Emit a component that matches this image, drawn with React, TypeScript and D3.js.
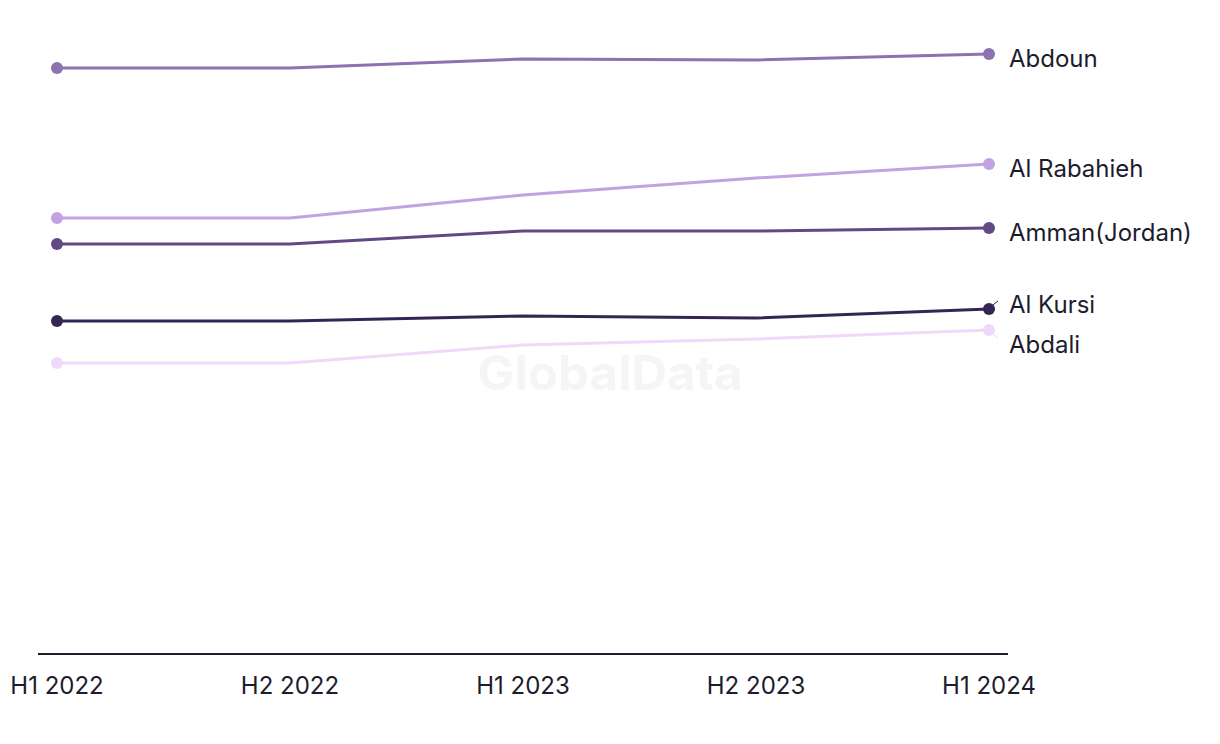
import React from "react";
import * as d3 from "d3";

const periods = ["H1 2022", "H2 2022", "H1 2023", "H2 2023", "H1 2024"];
const seriesNames = ["Abdoun", "Al Rabahieh", "Amman(Jordan)", "Al Kursi", "Abdali"];
const abdoun = [586, 586, 595, 594, 600];
const alRabahieh = [436, 436, 459, 476, 490];
const amman = [410, 410, 423, 423, 426];
const alKursi = [333, 333, 338, 336, 345];
const abdali = [291, 291, 309, 315, 324];
const seriesColors = ["#8c72b0", "#c0a3e0", "#614a84", "#352554", "#f0d8fb"];
const labelOffsets = [5, 5, 5, -4, 15];

const W = 1220;
const H = 744;
const FONT = "Inter, 'Noto Sans', sans-serif";
const TEXT = "#1c1c2c";

export default function App() {
  const seriesValues = [abdoun, alRabahieh, amman, alKursi, abdali];
  const x = d3.scalePoint<string>().domain(periods).range([57, 989]);
  const y = d3.scaleLinear().domain([0, 650]).range([654, 4]);
  const line = d3
    .line<number>()
    .x((_, i) => x(periods[i]) as number)
    .y((d) => y(d))
    .curve(d3.curveLinear);
  const last = periods.length - 1;
  const xEnd = x(periods[last]) as number;

  return (
    <svg
      width={W}
      height={H}
      style={{ position: "absolute", left: 0, top: 0, background: "#fff" }}
      fontFamily={FONT}
    >
      <text
        x={610}
        y={390}
        textAnchor="middle"
        fontSize={48}
        fontWeight={700}
        fill="#f5f5f5"
        textLength={265}
        lengthAdjust="spacingAndGlyphs"
      >
        GlobalData
      </text>
      <line x1={38} x2={1008} y1={654} y2={654} stroke={TEXT} strokeWidth={2} />
      {periods.map((p) => (
        <text
          key={p}
          x={x(p) as number}
          y={694}
          textAnchor="middle"
          fontSize={24}
          fill={TEXT}
        >
          {p}
        </text>
      ))}
      {seriesValues.map((vals, si) => {
        const yEnd = y(vals[last]);
        const ly = yEnd + labelOffsets[si];
        return (
          <g key={seriesNames[si]}>
            <path
              d={line(vals) || ""}
              fill="none"
              stroke={seriesColors[si]}
              strokeWidth={3}
            />
            <circle cx={x(periods[0]) as number} cy={y(vals[0])} r={6} fill={seriesColors[si]} />
            <circle cx={xEnd} cy={yEnd} r={6} fill={seriesColors[si]} />
            {Math.abs(labelOffsets[si]) > 6 || labelOffsets[si] < 0 ? (
              <line
                x1={xEnd + 4}
                y1={yEnd + (labelOffsets[si] < 0 ? -4 : 4)}
                x2={xEnd + 9}
                y2={yEnd + (labelOffsets[si] < 0 ? -8 : 8)}
                stroke={seriesColors[si]}
                strokeWidth={1}
              />
            ) : null}
            <text x={1009} y={ly} dy="0.35em" fontSize={24} fill={TEXT}>
              {seriesNames[si]}
            </text>
          </g>
        );
      })}
    </svg>
  );
}
